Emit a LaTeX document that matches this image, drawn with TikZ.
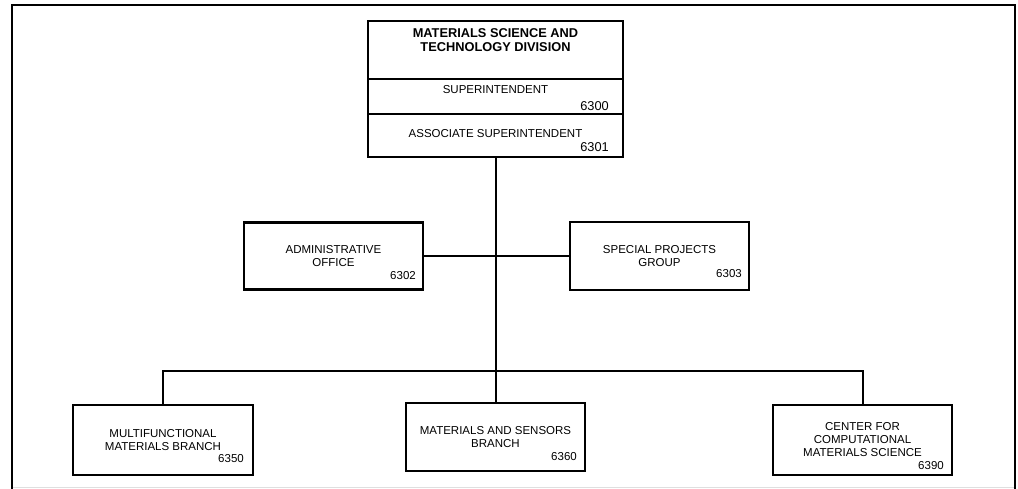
\documentclass[tikz,border=0pt]{standalone}
\usepackage{fontspec}
\setmainfont{Liberation Sans}
\newcommand\orgsize{\fontsize{11.5}{13}\selectfont}
\newcommand\headsize{\fontsize{12.8}{14}\selectfont}
\tikzset{
	unit/.style={draw,line width=2.4pt,inner sep=0pt,align=center,font=\orgsize},
	txt/.style={inner sep=0pt,align=center,font=\orgsize},
	code/.style={inner sep=0pt,anchor=east,font=\orgsize},
	link/.style={line width=2pt}
}
\begin{document}
\begin{tikzpicture}[x=1pt,y=-1pt]
	    \useasboundingbox (0,0) rectangle (1018,489);
	    \draw[gray!25,line width=1.5pt](12,487.5)--(1015,487.5);
	    \draw[line width=2pt](12,489)--(12,5)--(1015,5)--(1015,489);
	    \node[unit,minimum width=255pt,minimum height=58pt](division) at (495.5,50){};
	    \node[unit,minimum width=255pt,minimum height=35pt](super) at (495.5,96.5){};
	    \node[unit,minimum width=255pt,minimum height=43pt](assoc) at (495.5,135.5){};
	    \node[txt,font=\headsize\bfseries](divtext) at (495.5,40){MATERIALS SCIENCE AND\\TECHNOLOGY DIVISION};
	    \node[txt](supertext) at (495.5,90){SUPERINTENDENT};
	    \node[code,font=\headsize](c6300) at (609,106){6300};
	    \node[txt](assoctext) at (495.5,134){ASSOCIATE SUPERINTENDENT};
	    \node[code,font=\headsize](c6301) at (609,147){6301};
	    \node[unit,minimum width=179pt,minimum height=67pt](admin) at (333.5,256){ADMINISTRATIVE\\OFFICE};
	    \node[code](c6302) at (416,276){6302};
	    \node[unit,minimum width=179pt,minimum height=68pt](spg) at (659.5,256){SPECIAL PROJECTS\\GROUP};
	    \node[code](c6303) at (742,274){6303};
	    \node[unit,minimum width=180pt,minimum height=70pt](mfb) at (163,440){MULTIFUNCTIONAL\\MATERIALS BRANCH};
	    \node[code](c6350) at (244,459){6350};
	    \node[unit,minimum width=179pt,minimum height=68pt](msb) at (495.5,437){MATERIALS AND SENSORS\\BRANCH};
	    \node[code](c6360) at (577,457){6360};
	    \node[unit,minimum width=179pt,minimum height=70pt](ccms) at (862.5,440){CENTER FOR\\COMPUTATIONAL\\MATERIALS SCIENCE};
	    \node[code](c6390) at (944,466){6390};
	    \coordinate (bus) at (495.5,371);
	    \draw[link](assoc.south)--(msb.north);
	    \draw[link](admin.east)--(spg.west);
	    \draw[link](mfb.north)|-(bus)-|(ccms.north);
	\end{tikzpicture}
\end{document}
